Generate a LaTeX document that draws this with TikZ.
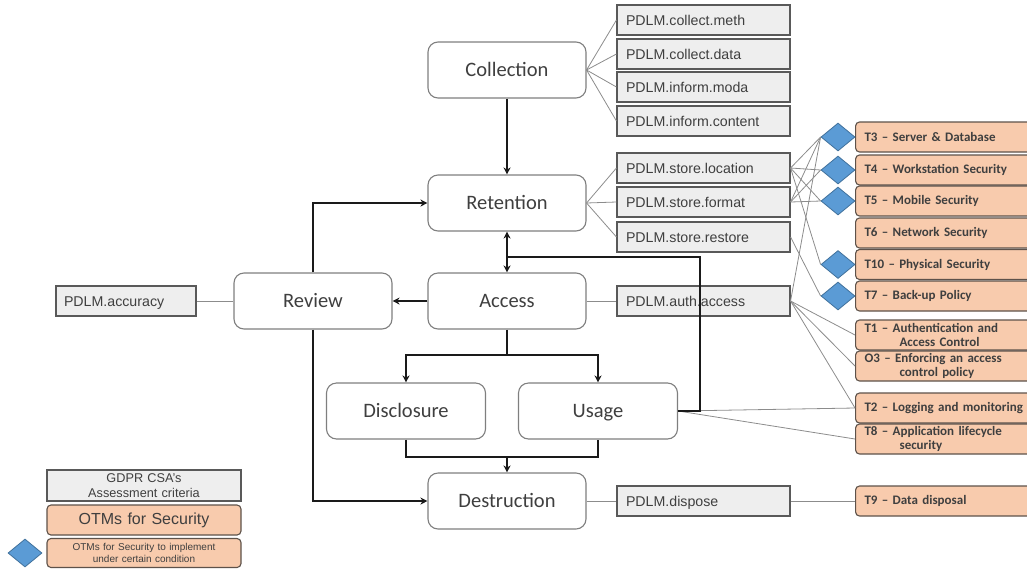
\documentclass[tikz,border=0pt]{standalone}
\usepackage{fontspec}
\setmainfont{Liberation Sans}
\newfontfamily\carlito[Ligatures=TeX]{Carlito}
\usetikzlibrary{arrows.meta,shapes.geometric}

\definecolor{stageedge}{HTML}{7F7F7F}
\definecolor{critedge}{HTML}{595959}
\definecolor{critfill}{HTML}{EEEEEE}
\definecolor{otmfill}{HTML}{F8CBAD}
\definecolor{otmedge}{HTML}{5E524A}
\definecolor{diafill}{HTML}{5B9BD5}
\definecolor{diaedge}{HTML}{41719C}
\definecolor{txt}{HTML}{3F3F3F}
\definecolor{flowcol}{HTML}{1A1A1A}
\definecolor{thincol}{HTML}{8C8C8C}

\tikzset{
  stage/.style={draw=stageedge, line width=1.1pt, rounded corners=10pt, fill=white,
    minimum width=158pt, minimum height=56pt, inner sep=0pt,
    text height=15pt, text depth=1.8pt,
    font=\carlito\fontsize{20.5}{24}\selectfont, text=txt},
  crit/.style={draw=critedge, line width=1.1pt, fill=critfill,
    minimum width=173pt, minimum height=30pt, inner sep=0pt,
    text height=12pt, text depth=1.8pt,
    text width=155pt, align=left, font=\fontsize{14.2}{17}\selectfont, text=txt},
  otm/.style={draw=otmedge, line width=1.1pt, rounded corners=4pt, fill=otmfill,
    anchor=west, minimum width=190pt, minimum height=30pt, inner sep=0pt,
    text width=172pt, align=left, font=\carlito\bfseries\fontsize{13}{14.5}\selectfont, text=txt},
  cond/.style={diamond, draw=diaedge, fill=diafill, line width=0.8pt,
    minimum width=34pt, minimum height=28pt, inner sep=0pt},
  flowline/.style={draw=flowcol, line width=2.5pt, -{Stealth[length=7pt,width=7pt]}},
  flowplain/.style={draw=flowcol, line width=2.5pt},
  link/.style={draw=thincol, line width=0.8pt}
}

\begin{document}
\begin{tikzpicture}[x=1pt,y=-1pt]
\clip (0,0) rectangle (1027,571);

% life-cycle stages
\node[stage] (coll) at (507,70) {Collection};
\node[stage] (ret)  at (507,203) {Retention};
\node[stage] (acc)  at (507,301) {Access};
\node[stage] (rev)  at (313,301) {Review};
\node[stage, minimum width=159pt] (disc) at (406,411) {Disclosure};
\node[stage, minimum width=159pt] (use)  at (598,411) {Usage};
\node[stage] (dest) at (507,501) {Destruction};

% assessment criteria
\node[crit] (cm) at (703.5,20)  {PDLM.collect.meth};
\node[crit] (cd) at (703.5,54)  {PDLM.collect.data};
\node[crit] (im) at (703.5,87)  {PDLM.inform.moda};
\node[crit] (ic) at (703.5,121) {PDLM.inform.content};
\node[crit] (sl) at (703.5,168) {PDLM.store.location};
\node[crit] (sf) at (703.5,202) {PDLM.store.format};
\node[crit] (sr) at (703.5,237) {PDLM.store.restore};
\node[crit] (aa) at (703.5,301) {PDLM.auth.access};
\node[crit] (dp) at (703.5,501) {PDLM.dispose};
\node[crit, minimum width=140pt, text width=124pt] (accu) at (126,301) {PDLM.accuracy};

% security measures
\node[otm] (t3)  at (855,137) {T3 -- Server \& Database};
\node[otm] (t4)  at (855,170) {T4 -- Workstation Security};
\node[otm] (t5)  at (855,201) {T5 -- Mobile Security};
\node[otm] (t6)  at (855,233) {T6 -- Network Security};
\node[otm] (t10) at (855,264.5) {T10 -- Physical Security};
\node[otm] (t7)  at (855,296) {T7 -- Back-up Policy};
\node[otm] (t1)  at (855,335) {T1 -- Authentication and\\\hspace*{35pt}Access Control};
\node[otm] (o3)  at (855,366) {O3 -- Enforcing an access\\\hspace*{35pt}control policy};
\node[otm] (t2)  at (855,408) {T2 -- Logging and monitoring};
\node[otm] (t8)  at (855,439) {T8 -- Application lifecycle\\\hspace*{35pt}security};
\node[otm] (t9)  at (855,501) {T9 -- Data disposal};

% conditional markers
\node[cond] (d3)  at (838,137) {};
\node[cond] (d4)  at (838,170) {};
\node[cond] (d5)  at (838,201) {};
\node[cond] (d10) at (838,264.5) {};
\node[cond] (d7)  at (838,296) {};

% criteria links
\draw[link] (coll.east) -- (cm.west);
\draw[link] (coll.east) -- (cd.west);
\draw[link] (coll.east) -- (im.west);
\draw[link] (coll.east) -- (ic.west);
\draw[link] (ret.east) -- (sl.west);
\draw[link] (ret.east) -- (sf.west);
\draw[link] (ret.east) -- (sr.west);
\draw[link] (acc.east) -- (aa.west);
\draw[link] (dest.east) -- (dp.west);
\draw[link] (accu.east) -- (rev.west);

% measure links
\draw[link] (sl.east) -- (d3.west);
\draw[link] (sl.east) -- (d4.west);
\draw[link] (sl.east) -- (d5.west);
\draw[link] (sl.east) -- (d10.west);
\draw[link] (sf.east) -- (d3.west);
\draw[link] (sf.east) -- (d4.west);
\draw[link] (sf.east) -- (d5.west);
\draw[link] (sr.east) -- (d7.west);
\draw[link] (aa.east) -- (d3.west);
\draw[link] (aa.east) -- (t1.west);
\draw[link] (aa.east) -- (o3.west);
\draw[link] (aa.east) -- (t2.west);
\draw[link] (use.east) -- (t2.west);
\draw[link] (use.east) -- (t8.west);
\draw[link] (dp.east) -- (t9.west);

% life-cycle flow
\coordinate (loop) at (700,257);
\coordinate (split) at (507,355);
\coordinate (merge) at (507,457);
\draw[flowline] (coll.south) -- (ret.north);
\draw[flowline, {Stealth[length=7pt,width=7pt]}-{Stealth[length=7pt,width=7pt]}] (ret.south) -- (acc.north);
\draw[flowplain] (use.east) -| (loop) -- (acc.north |- loop);
\draw[flowline] (acc.west) -- (rev.east);
\draw[flowline] (rev.north) |- (ret.west);
\draw[flowline] (rev.south) |- (dest.west);
\draw[flowplain] (acc.south) -- (split);
\draw[flowline] (split) -| (disc.north);
\draw[flowline] (split) -| (use.north);
\draw[flowplain] (disc.south) |- (merge) -| (use.south);
\draw[flowline] (merge) -- (dest.north);

% legend
\node[crit, minimum width=194pt, minimum height=31pt, text width=190pt, align=center,
  text height=, text depth=,
  font=\fontsize{12.7}{15.5}\selectfont] (lgcrit) at (144,485.5) {GDPR CSA's\\Assessment criteria};
\node[otm, anchor=center, minimum width=194pt, text width=190pt, align=center,
  font=\fontsize{16}{18}\selectfont] (lgotm) at (144,520) {OTMs for Security};
\node[otm, anchor=center, minimum width=194pt, minimum height=29pt, text width=190pt, align=center,
  font=\fontsize{10}{11.5}\selectfont] (lgcond) at (144,553) {OTMs for Security to implement\\under certain condition};
\node[cond] (lgdia) at (25,553) {};
\end{tikzpicture}
\end{document}
